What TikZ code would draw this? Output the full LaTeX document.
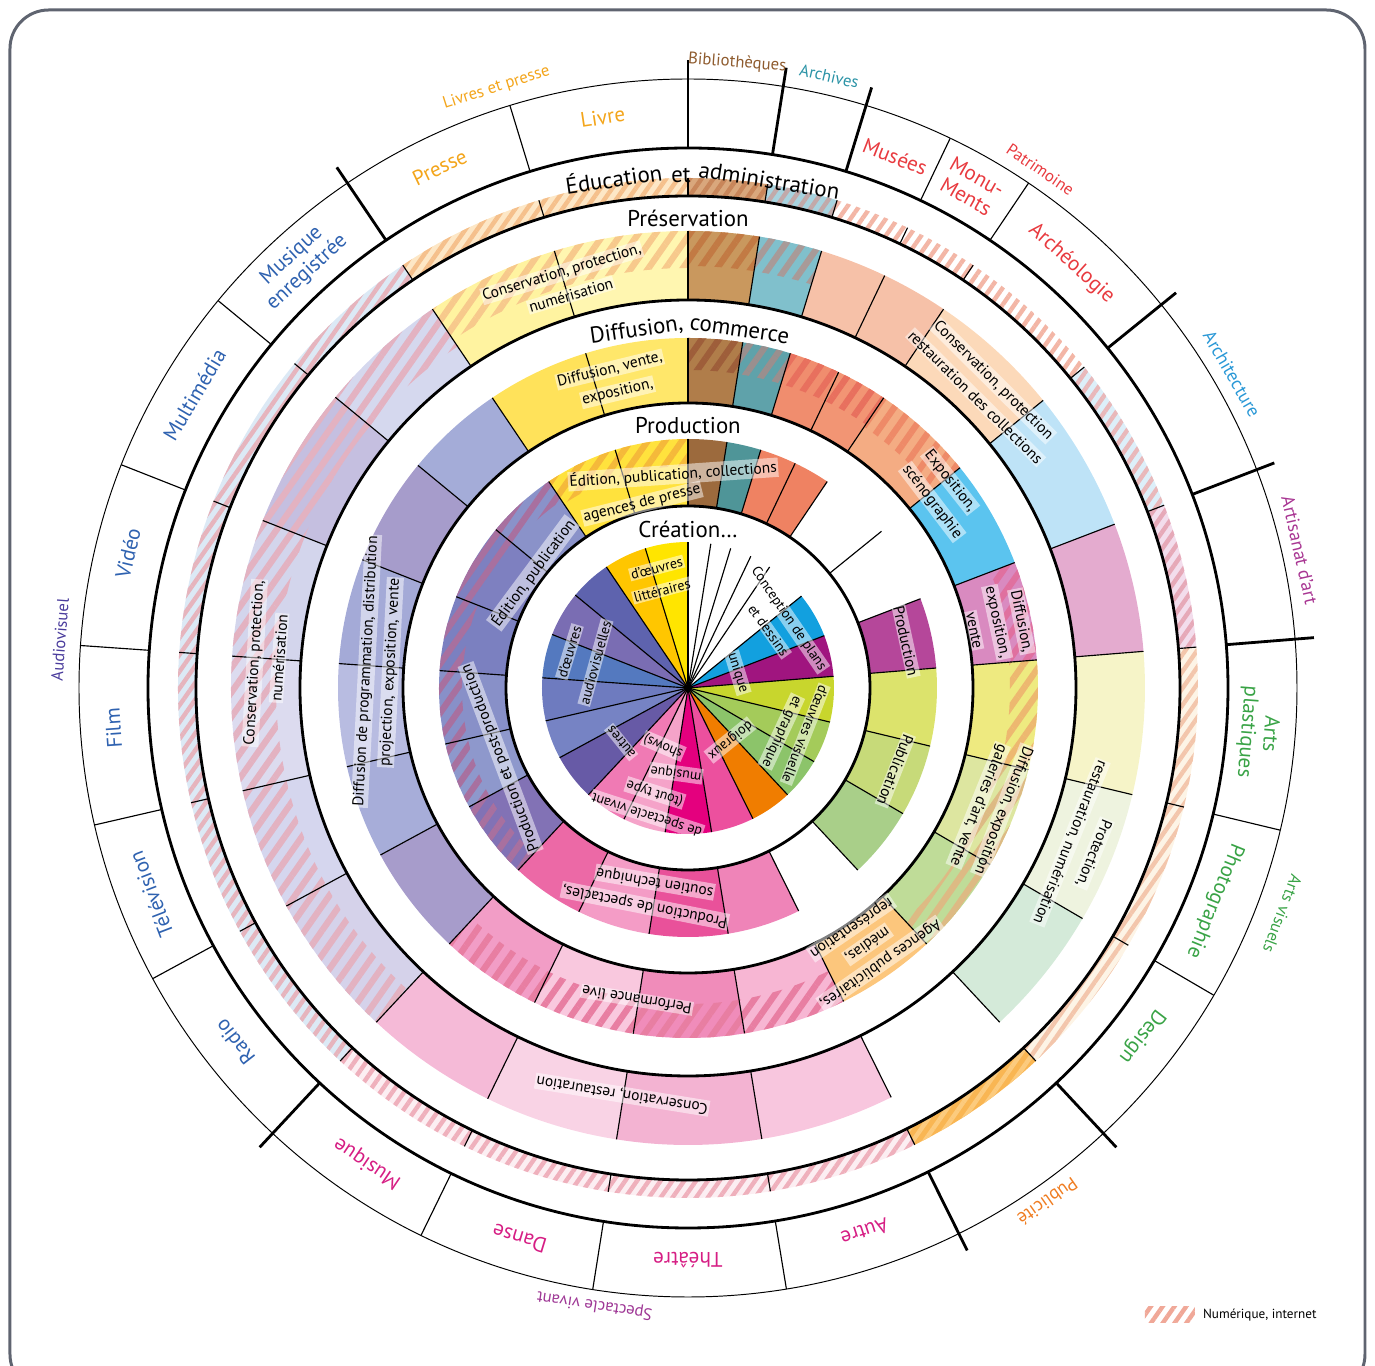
\documentclass[tikz,border=0pt]{standalone}
\usepackage{fontspec}
\setmainfont{PT Sans}
\usetikzlibrary{patterns.meta}

\definecolor{txLiv}{HTML}{F3A51B}
\definecolor{txBib}{HTML}{8E5B2E}
\definecolor{txArc}{HTML}{2B93A6}
\definecolor{txPat}{HTML}{E83A3F}
\definecolor{txArchi}{HTML}{2A98D6}
\definecolor{txArt}{HTML}{A83592}
\definecolor{txVis}{HTML}{39A346}
\definecolor{txPub}{HTML}{EF7D22}
\definecolor{txSpe}{HTML}{D61E84}
\definecolor{txSpeG}{HTML}{9E3795}
\definecolor{txAud}{HTML}{2F62B0}
\definecolor{txAudG}{HTML}{4A3C9C}
\definecolor{framegray}{HTML}{5F6470}
\definecolor{legh}{HTML}{F0A898}

\newcommand{\seg}[5][]{\path[#1] (#4:#2) arc[start angle=#4, end angle=#5, radius=#2] -- (#5:#3) arc[start angle=#5, end angle=#4, radius=#3] -- cycle;}
\newcommand{\pie}[3][]{\path[#1] (0,0) -- (#2:146) arc[start angle=#2, end angle=#3, radius=146] -- cycle;}
\newcommand{\titlefont}{\fontsize{13}{15}\selectfont}
\newcommand{\tn}[4]{\node[ttl, rotate=#2-90] (#1) at (#2:#3) {#4};}
\newcommand{\lb}[4]{\node[lbl, rotate=#2-90] (#1) at (#2:#3) {#4};}
\newcommand{\lbs}[4]{\node[lbl, font=\fontsize{8}{9}\selectfont, rotate=#2-90] (#1) at (#2:#3) {#4};}
\newcommand{\dn}[5]{\node[dom=#4, rotate=#2-90] (#1) at (#2:#3) {#5};}
\newcommand{\dno}[5]{\node[dom=#4, font=\fontsize{10.5}{12}\selectfont, rotate=#2-90] (#1) at (#2:#3) {#5};}
\newcommand{\gn}[5]{\node[grp=#4, rotate=#2-90] (#1) at (#2:#3) {#5};}
\newcommand{\bounds}{90,107,124,140.5,158.5,176,193,208.5,227,244,261,279.3,296.4,313,329.7,346.5,4.6,21,39,56,64.5,73,81}

\begin{document}
\begin{tikzpicture}[x=0.2mm, y=0.2mm,
  hatchE/.style={pattern={Lines[angle=55,distance=5.5pt,line width=2.5pt]}, pattern color=#1},
  hatchW/.style={pattern={Lines[angle=55,distance=8pt,line width=3.6pt]}, pattern color=#1},
  divline/.style={line width=0.65pt},
  ringline/.style={line width=1.6pt},
  grpline/.style={line width=1.6pt},
  ttl/.style={font=\titlefont, anchor=base, inner sep=0pt},
  lbl/.style={fill=white, fill opacity=0.5, text opacity=1, inner sep=0.8pt, font=\fontsize{8.8}{10}\selectfont},
  dom/.style={text=#1, font=\fontsize{12}{13}\selectfont, align=center, inner sep=1pt},
  grp/.style={text=#1, font=\fontsize{9.5}{10}\selectfont, inner sep=1pt}]
\useasboundingbox (-688,-678) rectangle (687,688);
\draw[framegray, line width=1.7pt, rounded corners=22pt] (-678,678) rectangle (677,-705);

\foreach \a/\b/\c in {90/107/FFE500, 107/124/FFC600, 124/140.5/5E63AE, 140.5/158.5/7A6DB3, 158.5/176/5479BF, 176/193/6E7BBF, 193/208.5/7683C4, 208.5/227/675AA6, 227/244/F07AB4, 244/261/F5A3C9, 261/279.3/E4007E, 279.3/296.4/EC509E, 296.4/313/F07D00, 313/329.7/8CC46A, 329.7/346.5/A4CB5A, 346.5/364.6/C8D62D, 4.6/21/A0157F, 21/39/12A0DF}
  {\definecolor{tmp}{HTML}{\c}\pie[fill=tmp]{\a}{\b}}

\foreach \a/\b/\c in {90/107/FFE23D, 107/124/FFE23D, 81/90/9C6A3D, 73/81/4F9598, 64.5/73/EF8262, 56/64.5/EF8262, 4.6/21/B5479A, 346.5/364.6/DCE36C, 329.7/346.5/C7DA79, 313/329.7/A9CF89, 279.3/296.4/EF84B8, 261/279.3/E9519A, 244/261/F49CC6, 227/244/EC69A6, 208.5/227/8272B5, 193/208.5/8E98CC, 176/193/8890C8, 158.5/176/7B80C0, 140.5/158.5/7E80C0, 124/140.5/8A92C9}
  {\definecolor{tmp}{HTML}{\c}\seg[fill=tmp]{182}{249}{\a}{\b}}
\foreach \a/\b/\h/\r in {90/124/F5B93A/222, 124/227/A8709F/226}
  {\definecolor{tmp}{HTML}{\h}\seg[hatchW=tmp]{\r}{249}{\a}{\b}}

\foreach \a/\b/\c in {90/107/FFE76A, 107/124/FFE25A, 81/90/B07D4A, 73/81/5FA2AA, 64.5/73/F08D6E, 56/64.5/F29574, 39/56/F4AC83, 21/39/5BC4EF, 4.6/21/D98AC0, 346.5/364.6/EEEA80, 329.7/346.5/DDE6A0, 313/329.7/BFDC98, 296.4/313/FCC67C, 279.3/296.4/F7B6D3, 261/279.3/F08CBA, 244/261/F9C8DE, 227/244/F29DC6, 208.5/227/A79CCB, 193/208.5/A7ADD9, 176/193/B8BCE1, 158.5/176/A4AAD7, 140.5/158.5/A69CCB, 124/140.5/A4ACD8}
  {\definecolor{tmp}{HTML}{\c}\seg[fill=tmp]{285}{350}{\a}{\b}}
\foreach \a/\b/\h/\r in {81/90/9E5E3A/318, 73/81/9A8F8E/318, 56/73/E8705E/318, 39/56/EE8A68/315, 4.6/21/E0709F/324, 346.5/364.6/EDB870/322, 313/346.5/DDBA84/318, 227/296.4/E87EA2/316}
  {\definecolor{tmp}{HTML}{\h}\seg[hatchW=tmp]{\r}{350}{\a}{\b}}

\foreach \a/\b/\c in {90/107/FFF6B0, 107/124/FFF3A0, 81/90/C9985E, 73/81/80C0CC, 56/73/F6C1A8, 39/56/FCD9B9, 21/39/BEE3F7, 4.6/21/E4ABCF, 346.5/364.6/F6F4C8, 329.7/346.5/EEF3DF, 313/329.7/D4EAD9, 279.3/296.4/F8C6DE, 261/279.3/F3B3D2, 244/261/F9D3E5, 227/244/F5BAD7, 208.5/227/D5D2EA, 193/208.5/D5D6EE, 176/193/DCDBEF, 158.5/176/D3D5EC, 140.5/158.5/C5BFE0, 124/140.5/D5D8EE}
  {\definecolor{tmp}{HTML}{\c}\seg[fill=tmp]{388}{457}{\a}{\b}}
\foreach \a/\b/\h/\r in {90/124/F7C98C/420, 81/90/C27A44/422, 73/81/A89A98/422, 124/227/E3B2C1/412}
  {\definecolor{tmp}{HTML}{\h}\seg[hatchW=tmp]{\r}{457}{\a}{\b}}

\foreach \a/\b/\c/\h in {90/124/FDE7C6/F5C08C, 81/90/D9A77C/C8865A, 73/81/A8D3DF/C2A9A9, 39/73/FFFFFF/F3B6A6, 21/39/DDEFF9/E9B8BA, 4.6/21/F3DDEC/E6A9B8, 313/364.6/FDF4E6/F3C6AC, 296.4/313/F9B653/FCCB7E, 227/296.4/FCEEF2/EFB0BC, 124/227/DCE9F5/E6B4BD}
  {\definecolor{tmp}{HTML}{\c}\seg[fill=tmp]{492}{510}{\a}{\b}
   \definecolor{tmp}{HTML}{\h}\seg[hatchE=tmp]{492}{510}{\a}{\b}}

\foreach \t in \bounds {
  \draw[divline] (0,0) -- (\t:146);
  \draw[divline] (\t:182) -- (\t:249);
  \draw[divline] (\t:285) -- (\t:350);
  \draw[divline] (\t:388) -- (\t:457);
  \draw[divline] (\t:492) -- (\t:510);
}
\fill (0,0) circle[radius=4];
\foreach \t in {107,140.5,158.5,176,193,208.5,244,261,279.3,329.7,346.5,56,64.5}
  \draw[divline] (\t:540) -- (\t:609);
\foreach \t in {90,81,73,39,21,4.6,313,296.4,227,124}
  \draw[grpline] (\t:540) -- (\t:628);
\foreach \r in {182,285,388,492,540}
  \draw[ringline] (0,0) circle[radius=\r];
\draw[line width=0.55pt] (0,0) circle[radius=609];

\tn{t-cre}{90}{150}{Création…}
\tn{t-pro}{90}{254}{Production}
\tn{t-dif1}{98.2}{355}{Diffusion,}
\tn{t-dif2}{81.8}{355}{commerce}
\tn{t-pre}{90}{461}{Préservation}
\tn{t-edu1}{98.3}{506}{Éducation}
\tn{t-edu2}{90.8}{506}{et}
\tn{t-edu3}{80.9}{506}{administration}

\lb{pr1a}{106.9}{434}{Conservation, protection,}
\lb{pr1b}{106.6}{410}{numérisation}
\lb{pr2a}{45.2}{433}{Conservation, protection}
\lb{pr2b}{45.3}{409}{restauration des collections}
\lb{pr3a}{-22.2}{438}{Protection,}
\lb{pr3b}{-22}{412}{restauration, numérisation}
\lb{pr4}{260.8}{412}{Conservation, restauration}
\lb{pr5a}{176.7}{434}{Conservation, protection,}
\lb{pr5b}{175.8}{410}{numérisation}

\lb{di1a}{103.8}{328}{Diffusion, vente,}
\lb{di1b}{103.4}{304}{exposition,}
\lb{di2a}{38.3}{334}{Exposition,}
\lb{di2b}{37.3}{307}{scénographie}
\lb{di3a}{11.3}{340}{Diffusion,}
\lb{di3b}{12}{316}{exposition,}
\lb{di3c}{11.4}{292}{vente}
\lb{di4a}{-21.2}{338}{Diffusion, exposition}
\lb{di4b}{-22}{313}{galeries d’art, vente}
\lb{di5a}{-55.1}{336}{Agences publicitaires,}
\lb{di5b}{-55}{313}{médias,}
\lb{di5c}{-55.7}{290}{représentation}
\lb{di6}{260.7}{316}{Performance live}
\lb{di7a}{177}{322}{Diffusion de programmation, distribution}
\lb{di7b}{177}{298}{projection, exposition, vente}

\lb{po1a}{94}{214}{Édition, publication, collections}
\lb{po1b}{104}{190}{agences de presse}
\lb{po2}{12.2}{223}{Production}
\lb{po3}{-21.6}{223}{Publication}
\lb{po4a}{258.8}{222}{Production de spectacles,}
\lb{po4b}{260.3}{197}{soutien technique}
\lb{po5}{200.5}{200}{Production et post-production}
\lb{po6}{143.4}{193}{Édition, publication}

\lbs{cr1a}{104.6}{124}{d’œuvres}
\lbs{cr1b}{104.9}{101}{littéraires}
\lbs{cr2a}{163}{124}{d’œuvres}
\lbs{cr2b}{164.6}{96}{audiovisuelles}
\lbs{cr3a}{252}{133}{de spectacle vivant}
\lbs{cr3b}{252.5}{110}{(tout type}
\lbs{cr3c}{262}{86}{musique}
\lbs{cr3d}{219}{86}{autres}
\lbs{cr3e}{247}{63}{shows)}
\lbs{cr4a}{34.5}{122}{Conception de plans}
\lbs{cr4b}{35.5}{99}{et dessins}
\lbs{cr5}{17}{52}{unique}
\lbs{cr6a}{-21.5}{126}{d’œuvres visuelle}
\lbs{cr6b}{-25}{103}{et graphique}
\lbs{cr6c}{-51}{67}{doigraux}

\dn{livre}{98.5}{577}{txLiv}{Livre}
\dn{presse}{115.5}{577}{txLiv}{Presse}
\dn{musenr}{132.5}{575}{txAud}{Musique\\enregistrée}
\dn{multi}{149.3}{574}{txAud}{Multimédia}
\dn{video}{166.5}{576}{txAud}{Vidéo}
\dn{film}{184}{576}{txAud}{Film}
\dn{tele}{201}{575}{txAud}{Télévision}
\dn{radio}{218}{575}{txAud}{Radio}
\dn{musique}{236}{573}{txSpe}{Musique}
\dn{danse}{253}{576}{txSpe}{Danse}
\dn{theatre}{270}{572}{txSpe}{Théâtre}
\dn{autre}{288}{572}{txSpe}{Autre}
\dno{pub}{305}{627}{txPub}{Publicité}
\dn{design}{322.5}{572}{txVis}{Design}
\dn{photo}{338}{568}{txVis}{Photographie}
\dn{artspl}{355.5}{572}{txVis}{Arts\\plastiques}
\dno{artisanat}{12.7}{627}{txArt}{Artisanat d’art}
\dno{archi}{30}{628}{txArchi}{Architecture}
\dn{archeo}{47.9}{572}{txPat}{Archéologie}
\dn{monu}{60.5}{576}{txPat}{Monu-\\Ments}
\dn{musees}{68.7}{570}{txPat}{Musées}
\gn{archives}{77}{628}{txArc}{Archives}
\gn{biblio}{85.5}{627}{txBib}{Bibliothèques}

\gn{livpresse}{107.7}{630}{txLiv}{Livres et presse}
\gn{patri}{55.8}{627}{txPat}{Patrimoine}
\gn{artsvis}{339.2}{636}{txVis}{Arts visuels}
\gn{spectacle}{261.4}{624}{txSpeG}{Spectacle vivant}
\gn{audio}{175.6}{630}{txAudG}{Audiovisuel}

\path[hatchE=legh] (457,-619) rectangle (507,-635);
\node[anchor=west, font=\fontsize{7.5}{8}\selectfont, inner sep=1pt] (legtxt) at (513,-627) {Numérique, internet};
\end{tikzpicture}
\end{document}
